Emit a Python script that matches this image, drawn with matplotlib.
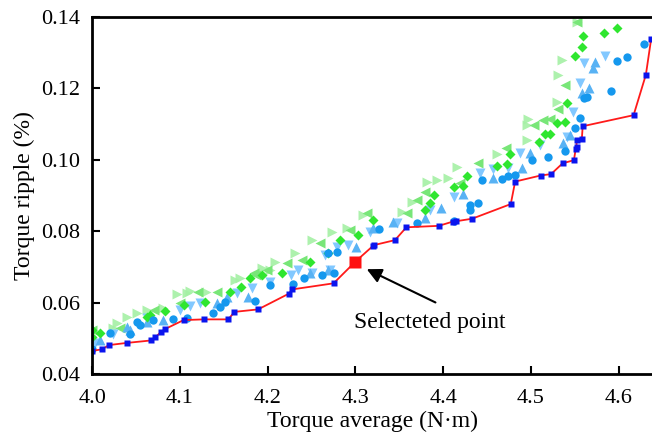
import matplotlib.pyplot as plt
import numpy as np

plt.rcParams['font.family'] = ['Liberation Serif', 'DejaVu Serif']

# candidate designs, grouped by marker
circ_x = [4.000, 4.020, 4.043, 4.051, 4.054, 4.069, 4.092, 4.108, 4.138, 4.146,
          4.151, 4.185, 4.203, 4.229, 4.241, 4.262, 4.275, 4.269, 4.279, 4.327,
          4.370, 4.412, 4.430, 4.431, 4.440, 4.444, 4.467, 4.474, 4.482, 4.501,
          4.520, 4.539, 4.550, 4.556, 4.560, 4.564, 4.591, 4.598, 4.609, 4.629]
circ_y = [0.0469, 0.0514, 0.0512, 0.0546, 0.0537, 0.0551, 0.0553, 0.0556, 0.0570, 0.0587,
          0.0603, 0.0604, 0.0649, 0.0652, 0.0668, 0.0677, 0.0682, 0.0738, 0.0743, 0.0805,
          0.0822, 0.0829, 0.0859, 0.0873, 0.0880, 0.0943, 0.0945, 0.0956, 0.0958, 0.1000,
          0.1009, 0.1026, 0.1088, 0.1116, 0.1172, 0.1175, 0.1193, 0.1278, 0.1288, 0.1325]

down_x = [4.003, 4.024, 4.062, 4.100, 4.111, 4.123, 4.165, 4.182, 4.202, 4.227,
          4.235, 4.250, 4.271, 4.265, 4.279, 4.292, 4.317, 4.347, 4.385, 4.412,
          4.442, 4.457, 4.474, 4.488, 4.510, 4.541, 4.548, 4.556, 4.560, 4.584]
down_y = [0.0486, 0.0512, 0.0556, 0.0579, 0.0590, 0.0598, 0.0626, 0.0640, 0.0657, 0.0677,
          0.0691, 0.0682, 0.0691, 0.0733, 0.0756, 0.0761, 0.0798, 0.0824, 0.0859, 0.0897,
          0.0962, 0.0974, 0.0976, 0.1018, 0.1041, 0.1064, 0.1134, 0.1214, 0.1270, 0.1290]

up_x = [4.009, 4.039, 4.043, 4.062, 4.081, 4.142, 4.153, 4.178, 4.248, 4.269,
        4.301, 4.320, 4.343, 4.379, 4.398, 4.422, 4.457, 4.490, 4.499, 4.537,
        4.545, 4.558, 4.566, 4.571, 4.573]
up_y = [0.0495, 0.0532, 0.0523, 0.0546, 0.0551, 0.0598, 0.0615, 0.0615, 0.0682, 0.0691,
        0.0756, 0.0808, 0.0827, 0.0836, 0.0864, 0.0904, 0.0948, 0.0976, 0.1018, 0.1046,
        0.1069, 0.1186, 0.1200, 0.1256, 0.1274]

diam_x = [4.000, 4.000, 4.009, 4.062, 4.066, 4.083, 4.104, 4.129, 4.157, 4.170,
          4.180, 4.193, 4.216, 4.248, 4.269, 4.282, 4.303, 4.320, 4.379, 4.385,
          4.389, 4.412, 4.423, 4.427, 4.461, 4.473, 4.476, 4.509, 4.516, 4.522,
          4.530, 4.539, 4.541, 4.550, 4.558, 4.559, 4.583, 4.598]
diam_y = [0.0523, 0.0503, 0.0516, 0.0560, 0.0565, 0.0577, 0.0593, 0.0602, 0.0630, 0.0644,
          0.0670, 0.0677, 0.0684, 0.0714, 0.0740, 0.0775, 0.0789, 0.0831, 0.0859, 0.0878,
          0.0901, 0.0924, 0.0926, 0.0955, 0.0983, 0.0988, 0.1015, 0.1050, 0.1072, 0.1072,
          0.1102, 0.1106, 0.1158, 0.1291, 0.1315, 0.1346, 0.1356, 0.1370]

right_x = [4.024, 4.028, 4.039, 4.051, 4.062, 4.081, 4.096, 4.108, 4.111, 4.130,
           4.163, 4.168, 4.193, 4.203, 4.208, 4.231, 4.250, 4.273, 4.290, 4.309,
           4.353, 4.364, 4.381, 4.393, 4.406, 4.416, 4.461, 4.495, 4.495, 4.497,
           4.530, 4.531, 4.535, 4.552]
right_y = [0.0528, 0.0542, 0.0560, 0.0570, 0.0579, 0.0584, 0.0625, 0.0626, 0.0632, 0.0630,
           0.0663, 0.0668, 0.0696, 0.0691, 0.0714, 0.0738, 0.0775, 0.0798, 0.0808, 0.0845,
           0.0854, 0.0882, 0.0938, 0.0943, 0.0948, 0.0980, 0.1016, 0.1055, 0.1097, 0.1114,
           0.1162, 0.1237, 0.1280, 0.1387]

left_x = [4.000, 4.032, 4.070, 4.100, 4.121, 4.142, 4.184, 4.187, 4.199, 4.222,
          4.239, 4.260, 4.294, 4.313, 4.359, 4.370, 4.379, 4.419, 4.440, 4.471,
          4.503, 4.514, 4.522, 4.531, 4.539, 4.552]
left_y = [0.0523, 0.0528, 0.0579, 0.0598, 0.0630, 0.0630, 0.0682, 0.0677, 0.0691, 0.0710,
          0.0719, 0.0766, 0.0803, 0.0850, 0.0850, 0.0887, 0.0910, 0.0934, 0.0990, 0.1032,
          0.1097, 0.1111, 0.1113, 0.1141, 0.1209, 0.1387]

# Pareto front
pf_x = [4.000, 4.011, 4.019, 4.039, 4.067, 4.072, 4.078, 4.083, 4.104, 4.127,
        4.155, 4.162, 4.189, 4.224, 4.228, 4.275, 4.300, 4.320, 4.321, 4.345,
        4.358, 4.395, 4.411, 4.415, 4.433, 4.477, 4.482, 4.511, 4.523, 4.536,
        4.549, 4.551, 4.552, 4.552, 4.558, 4.559, 4.617, 4.631, 4.637]
pf_y = [0.0465, 0.0469, 0.0481, 0.0487, 0.0494, 0.0503, 0.0517, 0.0526, 0.0551, 0.0553,
        0.0553, 0.0574, 0.0581, 0.0625, 0.0637, 0.0654, 0.0715, 0.0759, 0.0761, 0.0775,
        0.0811, 0.0815, 0.0827, 0.0828, 0.0835, 0.0876, 0.0939, 0.0956, 0.0960, 0.0990,
        0.0999, 0.1030, 0.1035, 0.1056, 0.1058, 0.1094, 0.1125, 0.1238, 0.1338]

sel_x, sel_y = 4.300, 0.0715

fig, ax = plt.subplots(figsize=(6.52, 4.36), dpi=100)
fig.subplots_adjust(left=0.1416, right=1.0, bottom=0.1422, top=0.961)

ax.plot(right_x, right_y, '>', ms=7, color='#a4f0a4', mec='none', alpha=0.9)
ax.plot(left_x, left_y, '<', ms=7, color='#78e678', mec='none')
ax.plot(down_x, down_y, 'v', ms=7, color='#82c8ff', mec='none')
ax.plot(up_x, up_y, '^', ms=7, color='#58b2f4', mec='none')
ax.plot(diam_x, diam_y, 'D', ms=5, color='#2fe62f', mec='none')
ax.plot(circ_x, circ_y, 'o', ms=6, color='#1598ee', mec='none')
ax.plot(pf_x, pf_y, '-', color='#ff1a1a', lw=1.3)
ax.plot(pf_x, pf_y, 's', ms=5, color='#0a14ee', mec='none')
ax.plot(sel_x, sel_y, 's', ms=8, color='#ff1010', mec='none')

ax.annotate('', xy=(4.310, 0.0697), xytext=(4.394, 0.0597),
            arrowprops=dict(arrowstyle='-|>', color='k', lw=1.5, mutation_scale=22))
ax.text(4.385, 0.0543, 'Selecteted point', fontsize=17, ha='center', va='center')

ax.set_xlim(4.0, 4.638)
ax.set_ylim(0.04, 0.14)
ax.set_xticks(np.arange(4.0, 4.61, 0.1))
ax.set_yticks(np.arange(0.04, 0.141, 0.02))
ax.set_xticklabels(['4.0', '4.1', '4.2', '4.3', '4.4', '4.5', '4.6'])
ax.set_yticklabels(['0.04', '0.06', '0.08', '0.10', '0.12', '0.14'])
ax.tick_params(direction='in', length=6, width=1.5, labelsize=16, top=False, right=False)
ax.tick_params(axis='x', pad=11)
ax.tick_params(axis='y', pad=9)
ax.set_xlabel('Torque average (N\u00b7m)', fontsize=17, labelpad=2)
ax.set_ylabel('Torque ripple (%)', fontsize=17, labelpad=4)
for s in ['left', 'bottom', 'top']:
    ax.spines[s].set_linewidth(2)
ax.spines['right'].set_visible(False)

fig.savefig('out.png', dpi=100)
